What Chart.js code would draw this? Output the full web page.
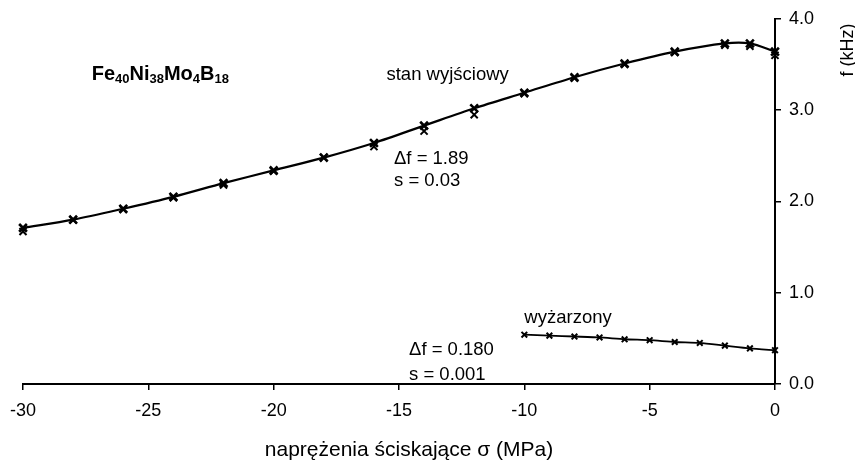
<!DOCTYPE html>
<html>
<head>
<meta charset="utf-8">
<script src="https://cdn.jsdelivr.net/npm/chart.js@4"></script>
<style>
  html, body { margin: 0; padding: 0; background: #fff; }
  #wrap { width: 855px; height: 468px; }
</style>
</head>
<body>
<div id="wrap"><canvas id="chart" width="855" height="468"></canvas></div>
<script>
// stress values (MPa) and frequencies (kHz)
const stressAsCast = [-30, -28, -26, -24, -22, -20, -18, -16, -14, -12, -10, -8, -6, -4, -2, -1, 0];
const freqAsCast = [1.71, 1.80, 1.92, 2.05, 2.20, 2.34, 2.48, 2.64, 2.83, 3.02, 3.19, 3.36, 3.51, 3.64, 3.73, 3.73, 3.64];
const freqAsCastRepeat = [1.67, 1.80, 1.91, 2.04, 2.18, 2.33, 2.48, 2.60, 2.77, 2.95, 3.18, 3.35, 3.50, 3.63, 3.71, 3.70, 3.60];
const stressAnnealed = [-10, -9, -8, -7, -6, -5, -4, -3, -2, -1, 0];
const freqAnnealed = [0.54, 0.53, 0.52, 0.51, 0.49, 0.48, 0.46, 0.45, 0.42, 0.39, 0.37];
const xTicks = [-30, -25, -20, -15, -10, -5, 0];
const yTicks = [0, 1, 2, 3, 4];

const FONT = '"Liberation Sans", Arial, Helvetica, sans-serif';

function toPoints(xs, ys) {
    return xs.map((x, i) => ({ x: x, y: ys[i] }));
}

// text labels placed in data coordinates
const notes = [
    { x: -15.5, y: 3.39, text: 'stan wyjściowy' },
    { x: -15.2, y: 2.47, text: 'Δf = 1.89' },
    { x: -15.2, y: 2.22, text: 's = 0.03' },
    { x: -10.0, y: 0.72, text: 'wyżarzony' },
    { x: -14.6, y: 0.37, text: 'Δf = 0.180' },
    { x: -14.6, y: 0.10, text: 's = 0.001' }
];

const textPlugin = {
    id: 'textPlugin',
    afterDraw(chart) {
        const ctx = chart.ctx;
        const xs = chart.scales.x;
        const ys = chart.scales.y;
        ctx.save();
        ctx.fillStyle = '#000';
        ctx.textBaseline = 'middle';
        ctx.textAlign = 'left';
        ctx.font = '18.5px ' + FONT;
        notes.forEach(n => {
            ctx.fillText(n.text, xs.getPixelForValue(n.x), ys.getPixelForValue(n.y));
        });

        // alloy formula with subscripts
        let px = xs.getPixelForValue(-27.26);
        const py = ys.getPixelForValue(3.39);
        const parts = [['Fe', false], ['40', true], ['Ni', false], ['38', true],
                       ['Mo', false], ['4', true], ['B', false], ['18', true]];
        parts.forEach(p => {
            ctx.font = p[1] ? 'bold 13px ' + FONT : 'bold 20px ' + FONT;
            ctx.fillText(p[0], px, p[1] ? py + 5 : py);
            px += ctx.measureText(p[0]).width;
        });

        // axis titles
        ctx.font = '21px ' + FONT;
        ctx.textAlign = 'center';
        ctx.fillText('naprężenia ściskające σ (MPa)', 409, 450);
        ctx.font = '18px ' + FONT;
        ctx.translate(848, 50);
        ctx.rotate(-Math.PI / 2);
        ctx.fillText('f (kHz)', 0, 0);
        ctx.restore();
    }
};

new Chart(document.getElementById('chart'), {
    type: 'line',
    data: {
        datasets: [
            {
                label: 'stan wyjściowy',
                data: toPoints(stressAsCast, freqAsCast),
                borderColor: '#000',
                backgroundColor: '#000',
                borderWidth: 2.2,
                tension: 0.3,
                clip: false,
                pointStyle: 'crossRot',
                pointRadius: 5.5,
                pointBorderWidth: 2.6
            },
            {
                label: 'stan wyjściowy (powtórzenie)',
                data: toPoints(stressAsCast, freqAsCastRepeat),
                showLine: false,
                clip: false,
                borderColor: '#000',
                backgroundColor: '#000',
                pointStyle: 'crossRot',
                pointRadius: 5,
                pointBorderWidth: 2
            },
            {
                label: 'wyżarzony',
                data: toPoints(stressAnnealed, freqAnnealed),
                borderColor: '#000',
                backgroundColor: '#000',
                borderWidth: 1.8,
                tension: 0.2,
                clip: false,
                pointStyle: 'crossRot',
                pointRadius: 4,
                pointBorderWidth: 2
            }
        ]
    },
    options: {
        responsive: false,
        animation: false,
        layout: { padding: { left: 21, top: 8, right: 0, bottom: 0 } },
        plugins: {
            legend: { display: false },
            tooltip: { enabled: false }
        },
        scales: {
            x: {
                type: 'linear',
                min: -30,
                max: 0,
                afterBuildTicks: axis => { axis.ticks = xTicks.map(v => ({ value: v })); },
                afterFit: axis => { axis.height = 84; },
                grid: { drawOnChartArea: false, drawTicks: true, tickLength: 6, color: '#000', lineWidth: 1.5 },
                border: { display: true, color: '#000', width: 2 },
                ticks: {
                    color: '#000',
                    padding: 10,
                    maxRotation: 0,
                    font: { family: FONT, size: 18 },
                    callback: v => String(v)
                }
            },
            y: {
                type: 'linear',
                position: 'right',
                min: 0,
                max: 4,
                afterBuildTicks: axis => { axis.ticks = yTicks.map(v => ({ value: v })); },
                afterFit: axis => { axis.width = 80; },
                grid: { drawOnChartArea: false, drawTicks: true, tickLength: 6, color: '#000', lineWidth: 1.5 },
                border: { display: true, color: '#000', width: 2 },
                ticks: {
                    color: '#000',
                    padding: 8,
                    font: { family: FONT, size: 18 },
                    callback: v => v.toFixed(1)
                }
            }
        }
    },
    plugins: [textPlugin]
});
</script>
</body>
</html>
